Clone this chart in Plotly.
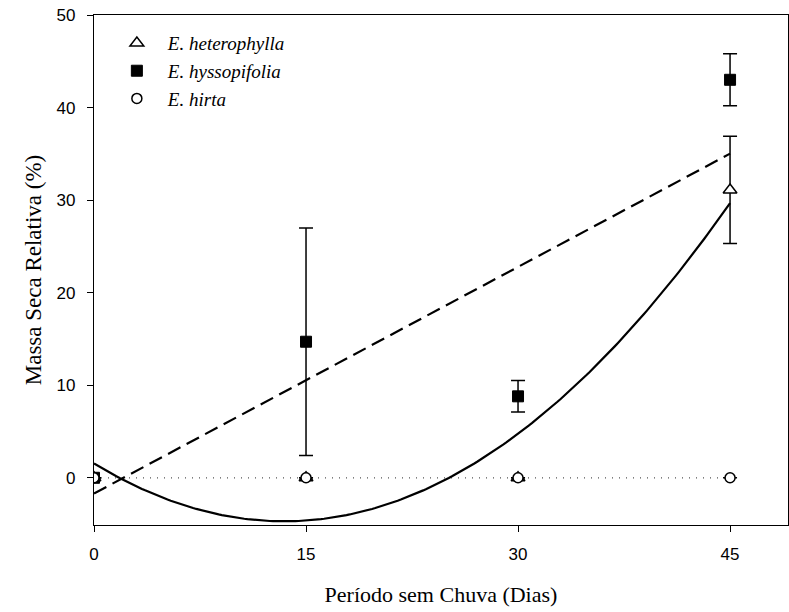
import numpy as np
import plotly.graph_objects as go

# ---- data ----
days = [0, 15, 30, 45]

het_y = [0.0, 0.0, 0.0, 31.1]
het_err = [0.0, 0.0, 0.0, 5.8]

hys_y = [0.0, 14.7, 8.8, 43.0]
hys_err = [0.0, 12.3, 1.7, 2.8]

hir_y = [0.0, 0.0, 0.0, 0.0]
hir_err = [0.0, 0.0, 0.0, 0.0]

# regression coefficients
het_fit = [1.555, -0.93, 0.034556]   # quadratic: a + b x + c x^2
hys_fit = [-1.7, 0.816]              # linear:    a + b x
hir_fit = [0.0]                      # constant

xfit = np.linspace(0, 45, 200)
het_curve = het_fit[0] + het_fit[1] * xfit + het_fit[2] * xfit ** 2
hys_curve = hys_fit[0] + hys_fit[1] * xfit

fig = go.Figure()

# fitted lines
fig.add_trace(go.Scatter(x=xfit, y=np.full_like(xfit, hir_fit[0]), mode="lines",
                         line=dict(color="#555555", width=1.2, dash="1px,6px"),
                         showlegend=False, hoverinfo="skip"))
fig.add_trace(go.Scatter(x=xfit, y=hys_curve, mode="lines",
                         line=dict(color="black", width=2.2, dash="14px,7px"),
                         showlegend=False, hoverinfo="skip"))
fig.add_trace(go.Scatter(x=xfit, y=het_curve, mode="lines",
                         line=dict(color="black", width=2.2),
                         showlegend=False, hoverinfo="skip"))

err_style = dict(type="data", visible=True, color="black", thickness=1.5, width=7)

fig.add_trace(go.Scatter(
    x=days, y=hys_y, mode="markers", name="<i>E. hyssopifolia</i>",
    legendrank=2,
    marker=dict(symbol="square", size=11, color="black", line=dict(color="black", width=1)),
    error_y=dict(array=hys_err, **err_style)))

fig.add_trace(go.Scatter(
    x=days, y=het_y, mode="markers", name="<i>E. heterophylla</i>",
    legendrank=1,
    marker=dict(symbol="triangle-up", size=12, color="white", line=dict(color="black", width=1.5)),
    error_y=dict(array=het_err, **err_style)))

fig.add_trace(go.Scatter(
    x=days, y=hir_y, mode="markers", name="<i>E. hirta</i>",
    legendrank=3,
    marker=dict(symbol="circle", size=10, color="white", line=dict(color="black", width=1.5)),
    error_y=dict(array=hir_err, **err_style)))

fig.update_layout(
    width=789, height=612,
    margin=dict(l=94, r=1, t=15, b=87),
    paper_bgcolor="white", plot_bgcolor="white",
    showlegend=True,
    legend=dict(x=0.0171, y=0.982, xanchor="left", yanchor="top",
                bgcolor="rgba(0,0,0,0)", itemwidth=52,
                font=dict(family="Liberation Serif", size=19, color="black")),
    xaxis=dict(range=[0, 49.1], tickvals=[0, 15, 30, 45], ticks="outside", ticklen=6,
               tickwidth=1.2, tickcolor="black", showline=True, linecolor="black",
               linewidth=1.2, mirror=True, showgrid=False, zeroline=False,
               ticklabelstandoff=7,
               tickfont=dict(family="Liberation Sans", size=17, color="black"),
               title=dict(text="Período sem Chuva (Dias)", standoff=24,
                          font=dict(family="Liberation Serif", size=22, color="black"))),
    yaxis=dict(range=[-5.1, 50], tickvals=[0, 10, 20, 30, 40, 50], ticks="outside", ticklen=6,
               tickwidth=1.2, tickcolor="black", showline=True, linecolor="black",
               linewidth=1.2, mirror=True, showgrid=False, zeroline=False,
               ticklabelstandoff=8,
               tickfont=dict(family="Liberation Sans", size=17, color="black"),
               title=dict(text="Massa Seca Relativa (%)", standoff=8,
                          font=dict(family="Liberation Serif", size=23, color="black"))),
)

fig.write_html("out.html", config={"displayModeBar": False},
               post_script="document.body.style.margin='0px';document.body.style.overflow='hidden';")
